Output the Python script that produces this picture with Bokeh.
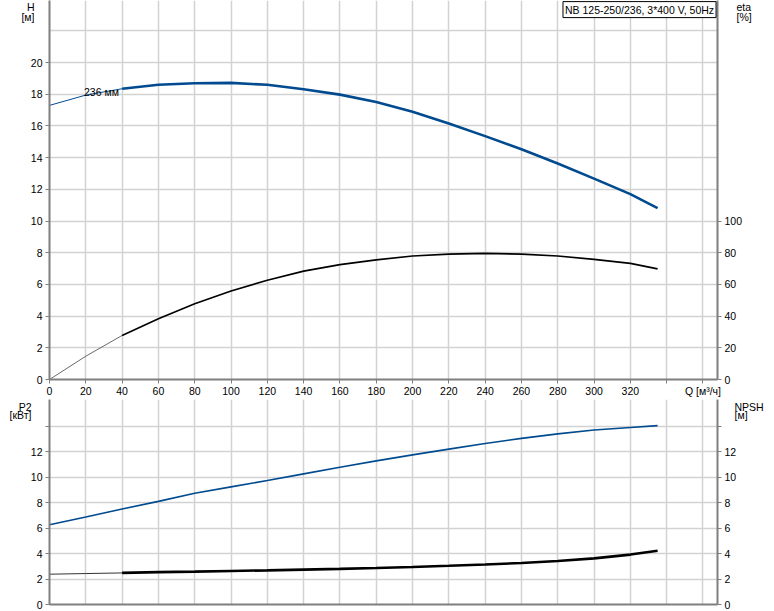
from bokeh.plotting import figure
from bokeh.models import Range1d, LinearAxis, FixedTicker, Grid, Label
from bokeh.layouts import column
from bokeh.embed import file_html
from bokeh.resources import INLINE

# ---------------- data ----------------
Q = [0, 20, 40, 60, 80, 100, 120, 140, 160, 180, 200, 220, 240, 260, 280, 300, 320, 335]
H = [17.3, 17.95, 18.35, 18.6, 18.7, 18.72, 18.6, 18.32, 17.98, 17.52, 16.9, 16.16,
     15.36, 14.53, 13.63, 12.68, 11.7, 10.82]
ETA = [0, 14.7, 27.8, 38.3, 47.8, 55.8, 62.7, 68.4, 72.5, 75.5, 77.9, 79.1,
       79.6, 79.1, 77.9, 75.8, 73.3, 69.8]
P2 = [6.26, 6.87, 7.5, 8.1, 8.74, 9.24, 9.74, 10.26, 10.78, 11.28, 11.75, 12.2,
      12.65, 13.05, 13.4, 13.7, 13.9, 14.05]
NPSH = [2.38, 2.43, 2.48, 2.54, 2.58, 2.63, 2.68, 2.74, 2.8, 2.87, 2.95, 3.04,
        3.14, 3.26, 3.42, 3.62, 3.92, 4.22]

TITLE = "NB 125-250/236, 3*400 V, 50Hz"
CURVE_LABEL = "236 мм"
Q_TICKS = list(range(0, 361, 20))
Q_LABELS = {340: "", 360: "Q [м³/ч]"}
H_TICKS = list(range(0, 21, 2))
H_GRID = list(range(0, 23, 2))
ETA_TICKS = list(range(0, 101, 20))
P_TICKS = list(range(0, 15, 2))
TOP_LEFT_TITLE = {23.75: "H", 22.9: "[м]"}
TOP_RIGHT_TITLE = {23.75: "eta", 22.9: "[%]"}
BOT_LEFT_TITLE = {15.55: "P2", 14.85: "[кВт]"}
BOT_RIGHT_TITLE = {15.55: "NPSH", 14.85: "[м]"}

FONT = "Liberation Sans"
FS = "10.5px"
BLUE = "#004a8f"
AXIS_C = "#7f7f7f"
GRID_C = "#d2d2d2"


def style_axis(ax, ticks, overrides=None):
    ax.ticker = FixedTicker(ticks=ticks)
    ax.axis_line_color = AXIS_C
    ax.axis_line_width = 2
    ax.major_tick_line_color = AXIS_C
    ax.major_tick_line_width = 1
    ax.major_tick_in = 0
    ax.major_tick_out = 4
    ax.minor_tick_line_color = None
    ax.major_label_text_font = FONT
    ax.major_label_text_font_size = FS
    ax.major_label_text_color = "#000000"
    ax.major_label_standoff = 3
    if overrides:
        ax.major_label_overrides = overrides


def title_axis(p, side, labels, standoff, range_name="default"):
    # an axis with no line and no ticks, used only to write the axis titles
    ax = LinearAxis(y_range_name=range_name)
    ax.ticker = FixedTicker(ticks=list(labels.keys()))
    ax.major_label_overrides = labels
    ax.axis_line_color = None
    ax.major_tick_line_color = None
    ax.minor_tick_line_color = None
    ax.major_tick_in = 0
    ax.major_tick_out = 0
    ax.major_label_standoff = standoff
    ax.major_label_text_font = FONT
    ax.major_label_text_font_size = FS
    ax.major_label_text_color = "#000000"
    p.add_layout(ax, side)


def add_grids(p, yticks):
    gx = Grid(dimension=0, ticker=FixedTicker(ticks=Q_TICKS),
              grid_line_color=GRID_C, grid_line_width=1.5)
    gy = Grid(dimension=1, ticker=FixedTicker(ticks=yticks),
              grid_line_color=GRID_C, grid_line_width=1.5)
    p.add_layout(gx)
    p.add_layout(gy)


# ---------------- top panel ----------------
p1 = figure(width=766, height=399, x_range=Range1d(0, 368), y_range=Range1d(0, 23.92),
            x_axis_type=None, y_axis_type=None, output_backend="svg",
            toolbar_location=None, min_border_left=49, min_border_right=49,
            min_border_top=0, min_border_bottom=18)
p1.outline_line_color = None
p1.extra_y_ranges = {"eta": Range1d(0, 239.2)}
add_grids(p1, H_GRID)

ax_l = LinearAxis()
style_axis(ax_l, H_TICKS)
p1.add_layout(ax_l, "left")
ax_r = LinearAxis(y_range_name="eta")
style_axis(ax_r, ETA_TICKS)
p1.add_layout(ax_r, "right")
ax_b = LinearAxis()
style_axis(ax_b, Q_TICKS, Q_LABELS)
ax_b.major_label_standoff = 1
p1.add_layout(ax_b, "below")
title_axis(p1, "left", TOP_LEFT_TITLE, -7)
title_axis(p1, "right", TOP_RIGHT_TITLE, -9)

p1.line(Q[:3], H[:3], line_width=1, color=BLUE)
p1.line(Q[2:], H[2:], line_width=2.6, color=BLUE)
p1.line(Q[:3], ETA[:3], line_width=0.8, color="#444444", y_range_name="eta")
p1.line(Q[2:], ETA[2:], line_width=1.6, color="#000000", y_range_name="eta")

p1.add_layout(Label(x=19, y=18.14, text=CURVE_LABEL, text_font=FONT, text_font_size=FS,
                    text_align="left", text_baseline="middle", text_color="#000000"))
p1.add_layout(Label(x=367.2, y=23.85, text=TITLE, text_font=FONT, text_font_size=FS,
                    text_align="right", text_baseline="top", text_color="#000000",
                    background_fill_color="white", border_line_color="#000000",
                    border_line_width=1, padding=2))

# ---------------- bottom panel ----------------
p2 = figure(width=766, height=212, x_range=p1.x_range, y_range=Range1d(0, 16.1),
            x_axis_type=None, y_axis_type=None, output_backend="svg",
            toolbar_location=None, min_border_left=49, min_border_right=49,
            min_border_top=0, min_border_bottom=7)
p2.outline_line_color = None
p2.extra_y_ranges = {"npsh": Range1d(0, 16.1)}
add_grids(p2, P_TICKS)

bl = LinearAxis()
style_axis(bl, P_TICKS, {14: ""})
p2.add_layout(bl, "left")
br = LinearAxis(y_range_name="npsh")
style_axis(br, P_TICKS, {14: ""})
p2.add_layout(br, "right")
bb = LinearAxis()
style_axis(bb, Q_TICKS)
bb.major_tick_line_color = None
bb.major_label_text_font_size = "0px"
bb.major_label_standoff = 0
p2.add_layout(bb, "below")
title_axis(p2, "left", BOT_LEFT_TITLE, -4)
title_axis(p2, "right", BOT_RIGHT_TITLE, -5)

p2.line(Q, P2, line_width=1.6, color=BLUE)
p2.line(Q[:3], NPSH[:3], line_width=1, color="#333333", y_range_name="npsh")
p2.line(Q[2:], NPSH[2:], line_width=2.6, color="#000000", y_range_name="npsh")

layout = column(p1, p2, spacing=0)
open("out.html", "w").write(file_html(layout, INLINE))
